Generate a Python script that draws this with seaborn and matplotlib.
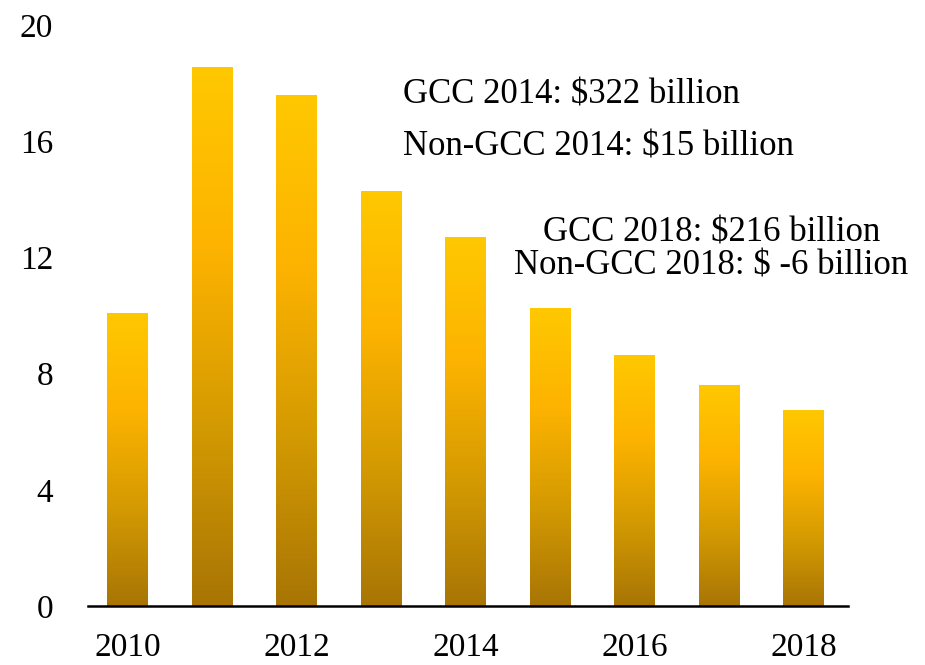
import numpy as np
import pandas as pd
import matplotlib
matplotlib.use("Agg")
import matplotlib.pyplot as plt
from matplotlib.colors import LinearSegmentedColormap
import seaborn as sns

# dados
anos = ['2010', '2011', '2012', '2013', '2014', '2015', '2016', '2017', '2018']
valores = [10.1, 18.55, 17.6, 14.3, 12.7, 10.25, 8.65, 7.6, 6.75]
rotulos_x = ['2010', '', '2012', '', '2014', '', '2016', '', '2018']
yticks = [0, 4, 8, 12, 16, 20]

df = pd.DataFrame({'Ano': anos, 'Valor': valores})

sns.set_style('white')
plt.rcParams['font.family'] = ['Liberation Serif', 'DejaVu Serif']
plt.rcParams['text.color'] = 'black'
plt.rcParams['xtick.color'] = 'black'
plt.rcParams['ytick.color'] = 'black'

fig = plt.figure(figsize=(9.25, 6.65), dpi=100)
ax = fig.add_axes([0.095, 0.0887, 0.822, 0.8737])

sns.barplot(data=df, x='Ano', y='Valor', color='#FFC000', width=0.48, ax=ax)

# gradiente vertical em cada barra (amarelo no topo, dourado escuro na base)
cmap = LinearSegmentedColormap.from_list('ouro', ['#A87505', '#D49A02', '#FDB300', '#FFC800'])
grad = np.linspace(0, 1, 256).reshape(-1, 1)
for bar in ax.patches:
    x0, y0 = bar.get_x(), bar.get_y()
    w, h = bar.get_width(), bar.get_height()
    bar.set_facecolor('none')
    bar.set_edgecolor('none')
    im = ax.imshow(grad, cmap=cmap, origin='lower', aspect='auto',
                   extent=[x0, x0 + w, y0, y0 + h], zorder=2)
    im.set_clip_path(bar)

ax.set_xlim(-0.47, 8.53)
ax.set_ylim(0, 20)
ax.set_yticks(yticks)
ax.set_yticklabels([str(t) for t in yticks])
ax.set_xticks(range(len(anos)))
ax.set_xticklabels(rotulos_x)
ax.tick_params(axis='both', length=0, labelsize=24)
ax.tick_params(axis='x', pad=19)
ax.tick_params(axis='y', pad=25)
ax.set_xlabel('')
ax.set_ylabel('')

for s in ['top', 'right', 'left']:
    ax.spines[s].set_visible(False)
ax.spines['bottom'].set_color('black')
ax.spines['bottom'].set_linewidth(1.8)
ax.spines['bottom'].set_zorder(5)

# anotacoes
ax.text(3.26, 17.6, 'GCC 2014: $322 billion', fontsize=25, va='center', ha='left')
ax.text(3.26, 15.8, 'Non-GCC 2014: $15 billion', fontsize=25, va='center', ha='left')
ax.text(6.91, 12.85, 'GCC 2018: $216 billion', fontsize=25, va='center', ha='center')
ax.text(6.91, 11.7, 'Non-GCC 2018: $ -6 billion', fontsize=25, va='center', ha='center')

fig.savefig('out.png', dpi=100)
